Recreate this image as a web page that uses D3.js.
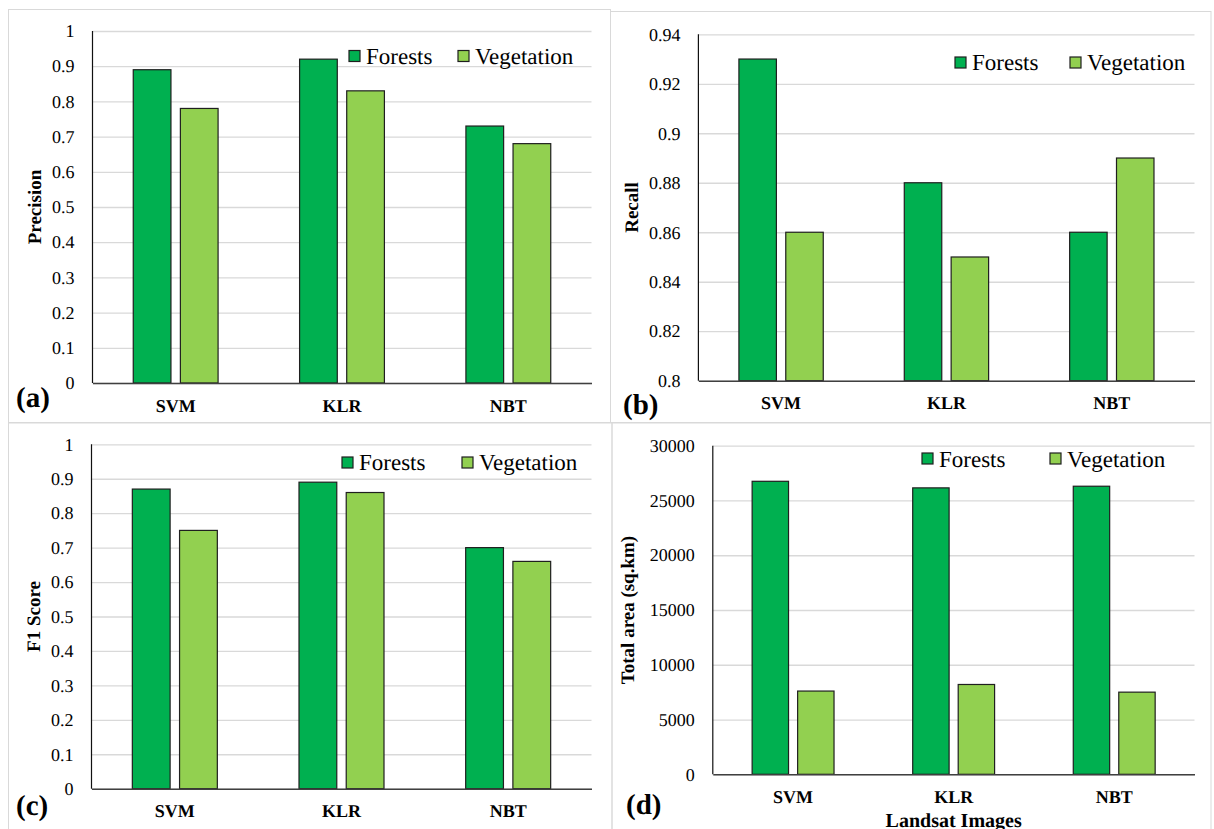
<!DOCTYPE html>
<html>
<head>
<meta charset="utf-8">
<script src="https://cdn.jsdelivr.net/npm/d3@7"></script>
</head>
<body style="margin:0; background:#fff">
<script>
// values
var categories = ['SVM', 'KLR', 'NBT']
var seriesNames = ['Forests', 'Vegetation']
var seriesColors = ['#00b050', '#92d050']

var precisionForests = [0.89, 0.92, 0.73]
var precisionVegetation = [0.78, 0.83, 0.68]
var recallForests = [0.93, 0.88, 0.86]
var recallVegetation = [0.86, 0.85, 0.89]
var f1Forests = [0.87, 0.89, 0.70]
var f1Vegetation = [0.75, 0.86, 0.66]
var areaForests = [26750, 26150, 26300]
var areaVegetation = [7600, 8200, 7500]

var unitTicks = [0, 0.1, 0.2, 0.3, 0.4, 0.5, 0.6, 0.7, 0.8, 0.9, 1]
var recallTicks = [0.8, 0.82, 0.84, 0.86, 0.88, 0.9, 0.92, 0.94]
var areaTicks = [0, 5000, 10000, 15000, 20000, 25000, 30000]

var serif = "'Liberation Serif', 'Times New Roman', serif"

var svg = d3.select('body').append('svg')
    .attr('width', 1214)
    .attr('height', 829)
    .style('text-rendering', 'geometricPrecision')

// layout of each panel: frame, plot rect [x0,y0,x1,y1], legend, tag
var panels = [
  { tag: '(a)', title: 'Precision', values: [precisionForests, precisionVegetation], ticks: unitTicks,
    frame: [8.5, 9.5, 602, 413], plot: [92.5, 31, 591.5, 383],
    legend: { fx: 349, vx: 458, sq: 50.5, base: 64 }, tagAt: [16, 407], titleX: 41 },
  { tag: '(b)', title: 'Recall', values: [recallForests, recallVegetation], ticks: recallTicks,
    frame: [610.5, 11.5, 600.5, 411], plot: [698.4, 34.3, 1194.5, 380.7],
    legend: { fx: 955, vx: 1070, sq: 57, base: 70 }, tagAt: [623, 414], titleX: 638 },
  { tag: '(c)', title: 'F1 Score', values: [f1Forests, f1Vegetation], ticks: unitTicks,
    frame: [8.5, 423, 603.5, 420], plot: [91.5, 444.3, 591.5, 788.7],
    legend: { fx: 342, vx: 462, sq: 457, base: 470 }, tagAt: [16, 815], titleX: 40 },
  { tag: '(d)', title: 'Total area (sq.km)', values: [areaForests, areaVegetation], ticks: areaTicks,
    frame: [612, 423, 599, 420], plot: [712.8, 445.7, 1194.5, 774.3],
    legend: { fx: 922, vx: 1050, sq: 453, base: 466.5 }, tagAt: [626, 814], titleX: 634,
    xTitle: 'Landsat Images' }
]

panels.forEach(drawPanel)

function drawPanel(p) {
  var g = svg.append('g')

  // panel frame
  g.append('rect')
      .attr('x', p.frame[0]).attr('y', p.frame[1])
      .attr('width', p.frame[2]).attr('height', p.frame[3])
      .attr('fill', 'none')
      .attr('stroke', '#d9d9d9')
      .attr('stroke-width', 1)

  var x0 = p.plot[0], y0 = p.plot[1], x1 = p.plot[2], y1 = p.plot[3]
  var ticks = p.ticks

  // scales
  var xScale = d3.scaleBand()
      .domain(categories)
      .range([x0, x1])
  var bw = xScale.bandwidth()
  var xInner = d3.scaleBand()
      .domain(seriesNames)
      .range([bw * 0.245, bw * 0.755])
      .paddingInner(0.2)
  var yScale = d3.scaleLinear()
      .domain([ticks[0], ticks[ticks.length - 1]])
      .range([y1, y0])

  // gridlines + tick labels
  var yAxis = d3.axisLeft(yScale)
      .tickValues(ticks)
      .tickFormat(function (d) { return String(d) })
      .tickSize(-(x1 - x0))
      .tickPadding(18)
  var ya = g.append('g')
      .attr('transform', 'translate(' + x0 + ',0)')
      .call(yAxis)
      .attr('font-family', null)
      .attr('font-size', null)
  ya.select('.domain').remove()
  ya.selectAll('line').attr('stroke', '#d9d9d9').attr('stroke-width', 1.3)
  ya.selectAll('text')
      .style('font-family', serif)
      .attr('font-size', 18)
      .attr('fill', '#000')

  // bars
  var rows = categories.map(function (c, i) {
    return seriesNames.map(function (s, j) { return { cat: c, name: s, idx: j, v: p.values[j][i] } })
  })
  g.append('g').selectAll('g')
      .data(rows)
      .enter()
    .append('g')
      .attr('transform', function (d) { return 'translate(' + xScale(d[0].cat) + ',0)' })
    .selectAll('rect')
      .data(function (d) { return d })
      .enter()
    .append('rect')
      .attr('x', function (d) { return xInner(d.name) })
      .attr('width', xInner.bandwidth())
      .attr('y', function (d) { return yScale(d.v) })
      .attr('height', function (d) { return y1 - yScale(d.v) })
      .attr('fill', function (d) { return seriesColors[d.idx] })
      .attr('stroke', '#1f1f1f')
      .attr('stroke-width', 1.2)

  // y axis line
  g.append('line')
      .attr('x1', x0).attr('x2', x0)
      .attr('y1', y0).attr('y2', y1)
      .attr('stroke', '#111')
      .attr('stroke-width', 1.2)

  // x axis
  var xAxis = d3.axisBottom(xScale)
      .tickSize(0)
      .tickSizeOuter(0)
      .tickPadding(16)
  var xa = g.append('g')
      .attr('transform', 'translate(0,' + y1 + ')')
      .call(xAxis)
      .attr('font-family', null)
      .attr('font-size', null)
  xa.select('.domain').attr('stroke', '#404040').attr('stroke-width', 1.6)
  xa.selectAll('text')
      .style('font-family', serif)
      .attr('font-size', 18)
      .attr('font-weight', 'bold')
      .attr('fill', '#000')

  // y axis title
  g.append('text')
      .style('font-family', serif)
      .attr('font-size', 19)
      .attr('font-weight', 'bold')
      .attr('transform', 'translate(' + p.titleX + ',' + ((y0 + y1) / 2) + ') rotate(-90)')
      .attr('text-anchor', 'middle')
      .text(p.title)

  if (p.xTitle) {
    g.append('text')
        .style('font-family', serif)
        .attr('font-size', 20)
        .attr('font-weight', 'bold')
        .attr('x', (x0 + x1) / 2)
        .attr('y', 827)
        .attr('text-anchor', 'middle')
        .text(p.xTitle)
  }

  // legend
  var lx = [p.legend.fx, p.legend.vx]
  seriesNames.forEach(function (s, j) {
    g.append('rect')
        .attr('x', lx[j]).attr('y', p.legend.sq)
        .attr('width', 11).attr('height', 11)
        .attr('fill', seriesColors[j])
        .attr('stroke', '#1f1f1f')
        .attr('stroke-width', 1.2)
    g.append('text')
        .style('font-family', serif)
        .attr('font-size', 23)
        .attr('x', lx[j] + 17)
        .attr('y', p.legend.base)
        .text(s)
  })

  // panel tag
  g.append('text')
      .style('font-family', serif)
      .attr('font-size', 29)
      .attr('font-weight', 'bold')
      .attr('x', p.tagAt[0])
      .attr('y', p.tagAt[1])
      .text(p.tag)
}
</script>
</body>
</html>
